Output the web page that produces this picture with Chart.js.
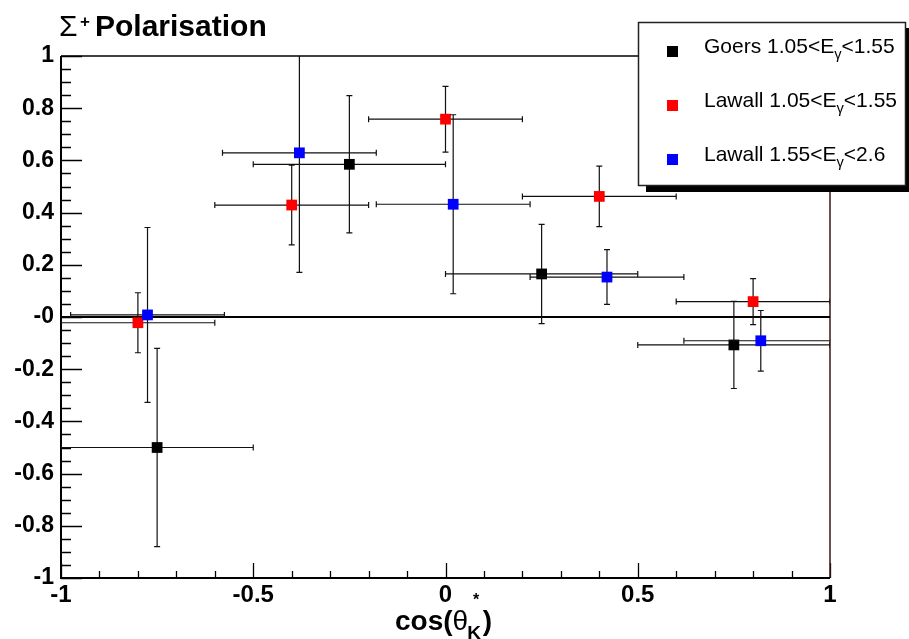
<!DOCTYPE html>
<html>
<head>
<meta charset="utf-8">
<script src="https://cdn.jsdelivr.net/npm/chart.js@4.4.0/dist/chart.umd.min.js"></script>
<style>
  body { margin: 0; background: #fff; }
</style>
</head>
<body>
<canvas id="sigma-pol" width="909" height="639"></canvas>
<script>
/* Sigma+ polarisation vs cos(theta_K*) */
const goersX = [-0.75, -0.25, 0.25, 0.75];
const goersY = [-0.50, 0.585, 0.165, -0.107];
const goersXErr = [0.25, 0.25, 0.25, 0.25];
const goersYErr = [0.38, 0.263, 0.19, 0.167];

const lawallLowX = [-0.8, -0.4, 0.0, 0.4, 0.8];
const lawallLowY = [-0.022, 0.429, 0.758, 0.462, 0.059];
const lawallLowXErr = [0.2, 0.2, 0.2, 0.2, 0.2];
const lawallLowYErr = [0.115, 0.153, 0.126, 0.116, 0.088];

const lawallHighX = [-0.775, -0.38, 0.02, 0.42, 0.82];
const lawallHighY = [0.008, 0.629, 0.432, 0.153, -0.091];
const lawallHighXErr = [0.2, 0.2, 0.2, 0.2, 0.2];
const lawallHighYErr = [0.335, 0.458, 0.343, 0.105, 0.116];

const seriesLabels = ['Goers 1.05<E_{γ}<1.55', 'Lawall 1.05<E_{γ}<1.55', 'Lawall 1.55<E_{γ}<2.6'];
const seriesColors = ['#000000', '#ff0000', '#0000ff'];

const FONT = '"Liberation Sans", Arial, Helvetica, sans-serif';

function points(xs, ys) {
    return xs.map(function(x, i) { return {x: x, y: ys[i]}; });
}

// draws text with ROOT-like _{} and ^{} pieces
function richText(ctx, text, x, y, size, weight) {
    const parts = text.split(/(_\{[^}]*\}|\^\{[^}]*\})/);
    let cx = x;
    parts.forEach(function(p) {
        if (!p) return;
        let dy = 0, s = size, str = p;
        if (p.startsWith('_{')) { str = p.slice(2, -1); s = size * 0.7; dy = size * 0.3; }
        else if (p.startsWith('^{')) { str = p.slice(2, -1); s = size * 0.7; dy = -size * 0.4; }
        ctx.font = weight + ' ' + s + 'px ' + FONT;
        ctx.fillText(str, cx, y + dy);
        cx += ctx.measureText(str).width;
    });
    return cx;
}

const errorBars = {
    id: 'errorBars',
    beforeDatasetDraw(chart, args) {
        const ds = chart.data.datasets[args.index];
        if (!ds.errX) return;
        const ctx = chart.ctx, xs = chart.scales.x, ys = chart.scales.y, a = chart.chartArea;
        ctx.save();
        ctx.beginPath();
        ctx.rect(a.left, a.top, a.right - a.left, a.bottom - a.top);
        ctx.clip();
        ctx.strokeStyle = '#111';
        ctx.lineWidth = 1.2;
        ds.data.forEach(function(p, i) {
            const px = xs.getPixelForValue(p.x), py = ys.getPixelForValue(p.y);
            const x1 = xs.getPixelForValue(p.x - ds.errX[i]), x2 = xs.getPixelForValue(p.x + ds.errX[i]);
            const y1 = ys.getPixelForValue(p.y + ds.errY[i]), y2 = ys.getPixelForValue(p.y - ds.errY[i]);
            ctx.beginPath();
            ctx.moveTo(x1, py); ctx.lineTo(x2, py);
            ctx.moveTo(px, y1); ctx.lineTo(px, y2);
            ctx.moveTo(x1, py - 3); ctx.lineTo(x1, py + 3);
            ctx.moveTo(x2, py - 3); ctx.lineTo(x2, py + 3);
            ctx.moveTo(px - 3, y1); ctx.lineTo(px + 3, y1);
            ctx.moveTo(px - 3, y2); ctx.lineTo(px + 3, y2);
            ctx.stroke();
        });
        ctx.restore();
    }
};

const frameAndTicks = {
    id: 'frameAndTicks',
    beforeDatasetsDraw(chart) {
        const ctx = chart.ctx, xs = chart.scales.x, ys = chart.scales.y, a = chart.chartArea;
        ctx.save();
        ctx.strokeStyle = '#000';
        ctx.lineWidth = 1.3;
        ctx.beginPath();
        for (let i = 0; i <= 40; i++) {
            const py = Math.round(ys.getPixelForValue(-1 + i * 0.05)) + 0.5;
            const len = (i % 4 === 0) ? 21 : 10;
            ctx.moveTo(a.left, py); ctx.lineTo(a.left + len, py);
        }
        for (let i = 0; i <= 20; i++) {
            const px = Math.round(xs.getPixelForValue(-1 + i * 0.1)) + 0.5;
            const len = (i % 5 === 0) ? 15 : 7;
            ctx.moveTo(px, a.bottom); ctx.lineTo(px, a.bottom - len);
        }
        ctx.stroke();

        ctx.lineWidth = 1.5;
        ctx.beginPath();
        ctx.moveTo(a.left, a.top); ctx.lineTo(a.right, a.top);
        ctx.stroke();
        ctx.strokeStyle = '#3b1414';
        ctx.beginPath();
        ctx.moveTo(a.right, a.top); ctx.lineTo(a.right, a.bottom);
        ctx.stroke();
        ctx.strokeStyle = '#000';
        ctx.lineWidth = 2;
        ctx.beginPath();
        ctx.moveTo(a.left, a.top); ctx.lineTo(a.left, a.bottom);
        ctx.lineTo(a.right, a.bottom);
        ctx.stroke();
        ctx.restore();
    },
    afterDraw(chart) {
        const ctx = chart.ctx;
        ctx.save();
        ctx.fillStyle = '#000';
        ctx.textBaseline = 'alphabetic';
        ctx.textAlign = 'left';

        // title
        ctx.font = 'normal 30px ' + FONT;
        ctx.fillText('Σ', 59, 36);
        ctx.font = 'bold 17px ' + FONT;
        ctx.fillText('+', 80, 27);
        ctx.font = 'bold 30px ' + FONT;
        ctx.fillText('Polarisation', 95, 36);

        // x axis title
        let cx = 395;
        ctx.font = 'bold 28px ' + FONT;
        ctx.fillText('cos(', cx, 630);
        cx += ctx.measureText('cos(').width;
        ctx.font = 'normal 28px ' + FONT;
        ctx.fillText('θ', cx, 630);
        cx += ctx.measureText('θ').width - 1;
        ctx.font = 'bold 19px ' + FONT;
        ctx.fillText('K', cx, 639);
        cx += ctx.measureText('K').width + 2;
        ctx.font = 'bold 28px ' + FONT;
        ctx.fillText(')', cx, 630);
        ctx.font = 'bold 16px ' + FONT;
        ctx.fillText('*', 473, 605);

        // legend box with shadow
        ctx.fillStyle = '#000';
        ctx.fillRect(646, 28, 263, 164);
        ctx.fillStyle = '#fff';
        ctx.fillRect(638, 22, 268, 164);
        ctx.strokeStyle = '#222';
        ctx.lineWidth = 1.5;
        ctx.strokeRect(638.5, 22.5, 267, 163);
        seriesLabels.forEach(function(lbl, i) {
            const cy = 51 + i * 54;
            ctx.fillStyle = seriesColors[i];
            ctx.fillRect(667, cy - 5, 11, 11);
            ctx.fillStyle = '#000';
            richText(ctx, lbl, 704, cy + 2, 21, 'normal');
        });
        ctx.restore();
    }
};

const ctx_pol = document.getElementById('sigma-pol').getContext('2d');
const polChart = new Chart(ctx_pol, {
    type: 'scatter',
    data: {
        datasets: [{
            label: seriesLabels[0],
            data: points(goersX, goersY),
            errX: goersXErr,
            errY: goersYErr,
            backgroundColor: seriesColors[0],
            pointStyle: 'rect',
            pointRadius: 7.6,
            pointBorderWidth: 0,
            order: 3
        }, {
            label: seriesLabels[1],
            data: points(lawallLowX, lawallLowY),
            errX: lawallLowXErr,
            errY: lawallLowYErr,
            backgroundColor: seriesColors[1],
            pointStyle: 'rect',
            pointRadius: 7.6,
            pointBorderWidth: 0,
            order: 2
        }, {
            label: seriesLabels[2],
            data: points(lawallHighX, lawallHighY),
            errX: lawallHighXErr,
            errY: lawallHighYErr,
            backgroundColor: seriesColors[2],
            pointStyle: 'rect',
            pointRadius: 7.6,
            pointBorderWidth: 0,
            order: 1
        }, {
            type: 'line',
            label: '',
            data: [{x: -1, y: 0}, {x: 1, y: 0}],
            borderColor: '#000',
            borderWidth: 2.2,
            pointRadius: 0,
            order: 10
        }]
    },
    options: {
        responsive: false,
        devicePixelRatio: 1,
        animation: false,
        events: [],
        layout: { padding: { top: 56, right: 79, left: 0, bottom: 0 } },
        plugins: { legend: { display: false }, tooltip: { enabled: false } },
        scales: {
            x: {
                type: 'linear',
                min: -1,
                max: 1,
                grid: { display: false, drawTicks: false },
                border: { display: false },
                ticks: {
                    stepSize: 0.5,
                    padding: 3,
                    maxRotation: 0,
                    autoSkip: false,
                    color: '#000',
                    font: { family: FONT, size: 24, weight: 'bold' },
                    callback: function(v) { return String(Number(v.toFixed(1))); }
                },
                afterFit: function(s) { s.height = 61; }
            },
            y: {
                type: 'linear',
                min: -1,
                max: 1,
                grid: { display: false, drawTicks: false },
                border: { display: false },
                ticks: {
                    stepSize: 0.2,
                    padding: 7,
                    autoSkip: false,
                    color: '#000',
                    font: { family: FONT, size: 23, weight: 'bold' },
                    callback: function(v) {
                        if (Math.abs(v) < 1e-9) return '-0';
                        return String(Number(v.toFixed(1)));
                    }
                },
                afterFit: function(s) { s.width = 61; }
            }
        }
    },
    plugins: [errorBars, frameAndTicks]
});
</script>
</body>
</html>
